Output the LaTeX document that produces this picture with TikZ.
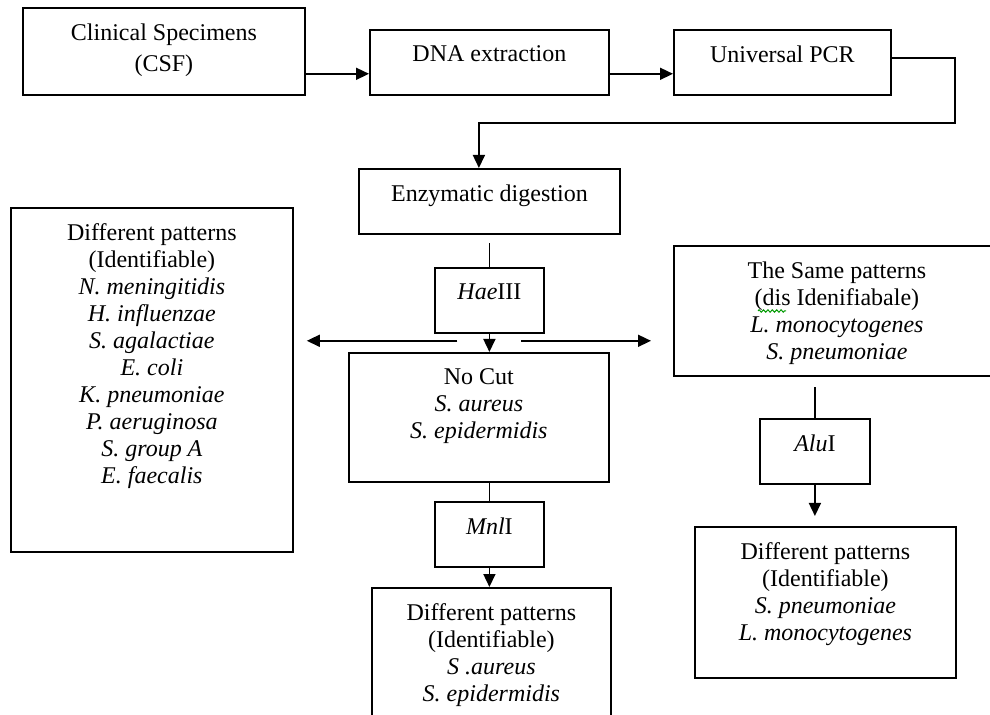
\documentclass[tikz,border=0pt]{standalone}
\usepackage{fontspec}
\setmainfont{Liberation Serif}
\usetikzlibrary{arrows.meta,decorations.pathmorphing}

\begin{document}
\begin{tikzpicture}[x=0.5pt,y=-0.5pt,>={Triangle[length=6.5pt,width=6pt]},
    font=\fontsize{12}{13.5}\selectfont,
    stage/.style={draw,line width=0.9pt,anchor=north west,inner sep=0pt},
    txt/.style={anchor=north,align=center,yshift=-5pt},
    link/.style={line width=0.8pt}]
  \path[use as bounding box,clip] (0,0) rectangle (990,715);

  % top row
  \node[stage,minimum width=141pt,minimum height=43.5pt,label={[txt]north:{Clinical Specimens\\[2pt](CSF)}}] (csf) at (22,7) {};
  \node[stage,minimum width=119.5pt,minimum height=32.5pt,label={[txt]north:DNA extraction}] (dna) at (369,29) {};
  \node[stage,minimum width=108.5pt,minimum height=32.5pt,label={[txt]north:Universal PCR}] (pcr) at (673,29) {};
  \node[stage,minimum width=130.5pt,minimum height=32.5pt,label={[txt]north:Enzymatic digestion}] (enz) at (358,168) {};

  % HaeIII branch
  \node[stage,minimum width=54.5pt,minimum height=32.5pt,label={[txt]north:\textit{Hae}III}] (hae) at (434,267) {};
  \node[stage,minimum width=141pt,minimum height=172pt,label={[txt]north:{Different patterns\\(Identifiable)\\\textit{N. meningitidis}\\\textit{H. influenzae}\\\textit{S. agalactiae}\\\textit{E. coli}\\\textit{K. pneumoniae}\\\textit{P. aeruginosa}\\\textit{S. group A}\\\textit{E. faecalis}}}] (diff) at (10,207) {};
  \node[stage,minimum width=130pt,minimum height=64.5pt,label={[txt]north:{No Cut\\\textit{S. aureus}\\\textit{S. epidermidis}}}] (nocut) at (348,352) {};
  \node[stage,minimum width=163pt,minimum height=65pt,label={[txt]north:{The Same patterns\\(dis Idenifiabale)\\\textit{L. monocytogenes}\\\textit{S. pneumoniae}}}] (same) at (673,245) {};

  % second digestion
  \node[stage,minimum width=55pt,minimum height=32.5pt,label={[txt]north:\textit{Alu}I}] (alu) at (759,418) {};
  \node[stage,minimum width=130.5pt,minimum height=75.5pt,label={[txt]north:{Different patterns\\(Identifiable)\\\textit{S. pneumoniae}\\\textit{L. monocytogenes}}}] (diffalu) at (694,526) {};
  \node[stage,minimum width=54.5pt,minimum height=32.5pt,label={[txt]north:\textit{Mnl}I}] (mnl) at (434,501) {};
  \node[stage,minimum width=119.5pt,minimum height=80pt,label={[txt]north:{Different patterns\\(Identifiable)\\\textit{S .aureus}\\\textit{S. epidermidis}}}] (diffmnl) at (371,587) {};

  % connectors
  \draw[link,->] ([yshift=11pt]csf.south east) -- ([yshift=11pt]dna.south west);
  \draw[link,->] ([yshift=11pt]dna.south east) -- ([yshift=11pt]pcr.south west);
  \coordinate (turn) at (955,123);
  \draw[link,->] ([yshift=-14.5pt]pcr.north east) -| (turn) -| ([xshift=-5.25pt]enz.north);
  \draw[link] (hae.north) -- ++(0,-24);
  \draw[link,->] (hae.south) -- (hae.south |- nocut.north);
  \coordinate (split) at ([yshift=-3.5pt]hae.south);
  \draw[link,->,shorten >=6.5pt] ([xshift=-16pt]split) -- (split -| diff.east);
  \draw[link,->,shorten >=11pt] ([xshift=16pt]split) -- (split -| same.west);
  \draw[link] (mnl.north |- nocut.south) -- (mnl.north);
  \draw[link,->] (mnl.south) -- (mnl.south |- diffmnl.north);
  \draw[link] (alu.north) -- ++(0,-31);
  \draw[link,->,shorten >=5pt] (alu.south) -- (alu.south |- diffalu.north);

  % spell-check mark
  \draw[green!60!black,line width=0.5pt,decorate,decoration={zigzag,amplitude=0.6pt,segment length=2.2pt}] (758,311) -- (786,311);
\end{tikzpicture}
\end{document}
